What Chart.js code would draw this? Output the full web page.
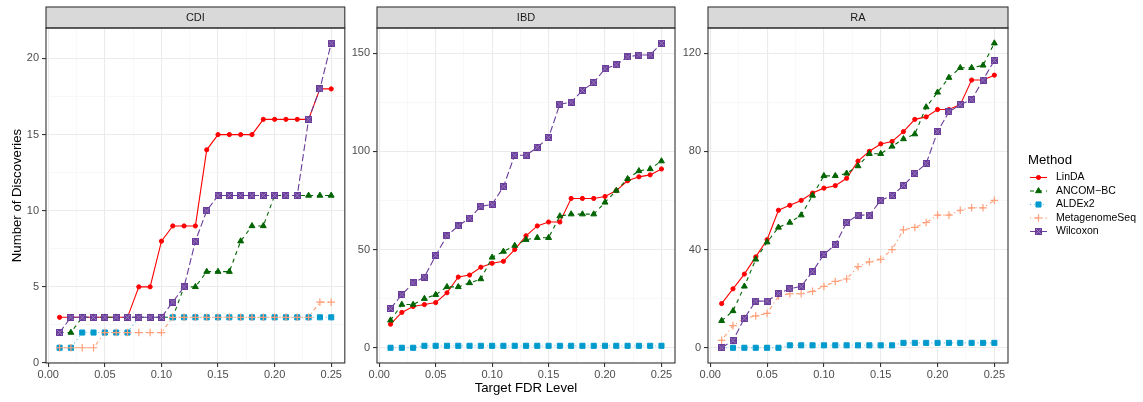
<!DOCTYPE html>
<html>
<head>
<meta charset="utf-8">
<title>Discoveries by target FDR</title>
<script src="https://cdn.jsdelivr.net/npm/chart.js@4.4.1/dist/chart.umd.min.js"></script>
<style>
  html, body { margin: 0; padding: 0; background: #ffffff; }
  #wrap { position: relative; width: 1143px; height: 402px; overflow: hidden; }
  #wrap canvas { position: absolute; top: 0; }
</style>
</head>
<body>
<div id="wrap">
  <canvas id="cdiChart" width="350" height="402" style="left:0px"></canvas>
  <canvas id="ibdChart" width="330" height="402" style="left:350px"></canvas>
  <canvas id="raChart" width="463" height="402" style="left:680px"></canvas>
</div>
<script>
// --- DATA ---
const fdrLevels = [0.01, 0.02, 0.03, 0.04, 0.05, 0.06, 0.07, 0.08, 0.09, 0.10,
                   0.11, 0.12, 0.13, 0.14, 0.15, 0.16, 0.17, 0.18, 0.19, 0.20,
                   0.21, 0.22, 0.23, 0.24, 0.25];
const methodNames = ['LinDA', 'ANCOM\u2212BC', 'ALDEx2', 'MetagenomeSeq', 'Wilcoxon'];

const xTickLabels = [0.00, 0.05, 0.10, 0.15, 0.20, 0.25];
const cdiTickLabels = [0, 5, 10, 15, 20];
const ibdTickLabels = [0, 50, 100, 150];
const raTickLabels = [0, 40, 80, 120];

// CDI
const cdiLinDA         = [3, 3, 3, 3, 3, 3, 3, 5, 5, 8, 9, 9, 9, 14, 15, 15, 15, 15, 16, 16, 16, 16, 16, 18, 18];
const cdiAncomBC       = [2, 2, 3, 3, 3, 3, 3, 3, 3, 3, 3, 5, 5, 6, 6, 6, 8, 9, 9, 11, 11, 11, 11, 11, 11];
const cdiALDEx2        = [1, 1, 2, 2, 2, 2, 2, 3, 3, 3, 3, 3, 3, 3, 3, 3, 3, 3, 3, 3, 3, 3, 3, 3, 3];
const cdiMetagenomeSeq = [1, 1, 1, 1, 2, 2, 2, 2, 2, 2, 3, 3, 3, 3, 3, 3, 3, 3, 3, 3, 3, 3, 3, 4, 4];
const cdiWilcoxon      = [2, 3, 3, 3, 3, 3, 3, 3, 3, 3, 4, 5, 8, 10, 11, 11, 11, 11, 11, 11, 11, 11, 16, 18, 21];

// IBD (no MetagenomeSeq results)
const ibdLinDA         = [12, 18, 21, 22, 23, 28, 36, 37, 41, 43, 44, 50, 57, 62, 64, 64, 76, 76, 76, 77, 80, 85, 87, 88, 91];
const ibdAncomBC       = [14, 22, 22, 25, 27, 31, 31, 33, 35, 46, 49, 52, 55, 56, 56, 67, 68, 68, 68, 74, 80, 86, 90, 91, 95];
const ibdALDEx2        = [0, 0, 0, 1, 1, 1, 1, 1, 1, 1, 1, 1, 1, 1, 1, 1, 1, 1, 1, 1, 1, 1, 1, 1, 1];
const ibdMetagenomeSeq = [];
const ibdWilcoxon      = [20, 27, 33, 36, 47, 57, 62, 66, 72, 73, 82, 98, 98, 102, 107, 124, 125, 131, 135, 142, 144, 148, 149, 149, 155];

// RA
const raLinDA         = [18, 24, 30, 37, 44, 56, 58, 60, 63, 65, 66, 69, 76, 80, 83, 84, 88, 93, 94, 97, 97, 99, 109, 109, 111];
const raAncomBC       = [11, 15, 25, 36, 43, 49, 51, 54, 62, 70, 70, 71, 74, 79, 79, 82, 85, 87, 98, 104, 110, 114, 114, 115, 124];
const raALDEx2        = [0, 0, 0, 0, 0, 0, 1, 1, 1, 1, 1, 1, 1, 1, 1, 1, 2, 2, 2, 2, 2, 2, 2, 2, 2];
const raMetagenomeSeq = [3, 9, 12, 13, 14, 21, 22, 22, 23, 25, 27, 28, 33, 35, 36, 40, 48, 49, 51, 54, 54, 56, 57, 57, 60];
const raWilcoxon      = [0, 3, 12, 19, 19, 22, 24, 25, 31, 38, 42, 51, 54, 54, 60, 62, 66, 71, 75, 88, 96, 99, 101, 109, 117];

// --- STYLES ---
const FONT = '"Liberation Sans", Arial, Helvetica, sans-serif';
const TICK_SIZE = 11;

// filled square with a light X, used for Wilcoxon
function squareCross(fill, line) {
    const c = document.createElement('canvas');
    c.width = 7; c.height = 7;
    const g = c.getContext('2d');
    g.fillStyle = fill;
    g.fillRect(0, 0, 7, 7);
    g.strokeStyle = line;
    g.lineWidth = 1;
    g.beginPath();
    g.moveTo(1, 1); g.lineTo(6, 6);
    g.moveTo(6, 1); g.lineTo(1, 6);
    g.stroke();
    return c;
}

const methodStyles = [
    { color: '#FF0000', line: '#FF0000', dash: [], point: 'circle', radius: 2.1, border: 1 },
    { color: '#006400', line: '#006400', dash: [4, 4], point: 'triangle', radius: 3.4, border: 1 },
    { color: '#009ACD', line: 'rgba(0,154,205,0.55)', dash: [1.2, 3], point: 'rect', radius: 3.6, border: 1 },
    { color: '#FFA07A', line: '#FFA07A', dash: [1.2, 3, 4, 3], point: 'cross', radius: 3.8, border: 1.2 },
    { color: '#6A3D9A', line: '#6A3D9A', dash: [7, 3], point: squareCross('#6A3D9A', '#9C82C0'), radius: 3.5, border: 1 }
];

const half = arr => arr.slice(1).map((v, i) => (v + arr[i]) / 2);

// lines go below all points, later methods draw on top
function buildDatasets(seriesList) {
    const sets = [];
    seriesList.forEach((values, i) => {
        const st = methodStyles[i];
        const pts = values.map((y, k) => ({ x: fdrLevels[k], y }));
        sets.push({
            label: methodNames[i], data: pts, showLine: true,
            borderColor: st.line, borderWidth: 1.1, borderDash: st.dash,
            pointRadius: 0, order: 20 - i
        });
        sets.push({
            label: methodNames[i], data: pts, showLine: false,
            pointStyle: st.point, pointRadius: st.radius,
            pointBackgroundColor: st.color, pointBorderColor: st.color,
            pointBorderWidth: st.border, order: 10 - i
        });
    });
    return sets;
}

// --- PANEL FRAME + STRIP ---
const panelDecor = {
    id: 'panelDecor',
    afterDraw(chart, args, opts) {
        const { ctx, chartArea: a } = chart;
        ctx.save();
        ctx.fillStyle = '#D9D9D9';
        ctx.fillRect(a.left, 7, a.right - a.left, a.top - 7);
        ctx.strokeStyle = '#333333';
        ctx.lineWidth = 1.1;
        ctx.strokeRect(a.left, 7, a.right - a.left, a.top - 7);
        ctx.strokeRect(a.left, a.top, a.right - a.left, a.bottom - a.top);
        ctx.fillStyle = '#1A1A1A';
        ctx.font = '11px ' + FONT;
        ctx.textAlign = 'center';
        ctx.textBaseline = 'middle';
        ctx.fillText(opts.strip, (a.left + a.right) / 2, (7 + a.top) / 2 + 0.5);
        ctx.restore();
    }
};

// --- LEGEND (right of last panel) ---
const methodLegend = {
    id: 'methodLegend',
    afterDraw(chart) {
        const { ctx, chartArea: a } = chart;
        const x0 = a.right + 22;
        const cy = (a.top + a.bottom) / 2;
        ctx.save();
        ctx.fillStyle = '#000000';
        ctx.font = '13.2px ' + FONT;
        ctx.textAlign = 'left';
        ctx.textBaseline = 'middle';
        ctx.fillText('Method', x0 - 2, cy - 35.5);
        methodNames.forEach((name, i) => {
            const st = methodStyles[i];
            const y = cy - 18 + i * 13.5;
            ctx.strokeStyle = st.line;
            ctx.lineWidth = 1.1;
            ctx.setLineDash(st.dash);
            ctx.beginPath();
            ctx.moveTo(x0, y);
            ctx.lineTo(x0 + 17, y);
            ctx.stroke();
            ctx.setLineDash([]);
            ctx.fillStyle = st.color;
            ctx.strokeStyle = st.color;
            ctx.lineWidth = st.border;
            Chart.helpers.drawPoint(ctx, { pointStyle: st.point, radius: st.radius, rotation: 0, borderWidth: st.border }, x0 + 8.5, y);
            ctx.fillStyle = '#000000';
            ctx.font = '10.5px ' + FONT;
            ctx.fillText(name, x0 + 26, y);
        });
        ctx.restore();
    }
};

// --- CHART SETUP ---
function makePanel(id, strip, seriesList, yRange, yLabels, opts) {
    const xMinor = half(xTickLabels);
    const yMinor = half(yLabels);
    const isMajor = (list, v) => list.some(t => Math.abs(t - v) < 1e-9);
    const gridFor = list => ({
        color: c => isMajor(list, c.tick.value) ? '#EBEBEB' : '#F4F4F4',
        lineWidth: c => isMajor(list, c.tick.value) ? 1.1 : 0.6,
        tickColor: c => isMajor(list, c.tick.value) ? '#333333' : 'rgba(0,0,0,0)',
        tickWidth: 1.1,
        tickLength: 4,
        drawTicks: true
    });

    return new Chart(document.getElementById(id), {
        type: 'scatter',
        data: { datasets: buildDatasets(seriesList) },
        options: {
            responsive: false,
            animation: false,
            events: [],
            layout: { padding: { left: 0, right: opts.rightPad, top: 28, bottom: 0 } },
            plugins: {
                legend: { display: false },
                tooltip: { enabled: false },
                panelDecor: { strip }
            },
            scales: {
                x: {
                    type: 'linear',
                    min: -0.002, max: 0.262,
                    border: { display: false },
                    grid: gridFor(xTickLabels),
                    afterBuildTicks: s => { s.ticks = xTickLabels.concat(xMinor).sort((p, q) => p - q).map(v => ({ value: v })); },
                    afterFit: s => { s.height = 39; },
                    ticks: {
                        autoSkip: false, maxRotation: 0, padding: 1.5,
                        color: '#4D4D4D', font: { family: FONT, size: TICK_SIZE },
                        callback: v => isMajor(xTickLabels, v) ? v.toFixed(2) : ''
                    },
                    title: {
                        display: !!opts.xTitle, text: opts.xTitle || '',
                        color: '#000000', font: { family: FONT, size: 13.2 },
                        padding: { top: 0, bottom: 6 }
                    }
                },
                y: {
                    type: 'linear',
                    min: yRange[0], max: yRange[1],
                    border: { display: false },
                    grid: gridFor(yLabels),
                    afterBuildTicks: s => { s.ticks = yLabels.concat(yMinor).sort((p, q) => p - q).map(v => ({ value: v })); },
                    afterFit: s => { s.width = opts.yWidth; },
                    ticks: {
                        autoSkip: false, padding: 3,
                        color: '#4D4D4D', font: { family: FONT, size: TICK_SIZE },
                        callback: v => isMajor(yLabels, v) ? String(v) : ''
                    },
                    title: {
                        display: !!opts.yTitle, text: opts.yTitle || '',
                        color: '#000000', font: { family: FONT, size: 13.2 },
                        padding: { top: 9, bottom: 0 }
                    }
                }
            }
        },
        plugins: opts.legend ? [panelDecor, methodLegend] : [panelDecor]
    });
}

makePanel('cdiChart', 'CDI',
    [cdiLinDA, cdiAncomBC, cdiALDEx2, cdiMetagenomeSeq, cdiWilcoxon],
    [0, 22], cdiTickLabels,
    { yWidth: 46, rightPad: 3, yTitle: 'Number of Discoveries' });

makePanel('ibdChart', 'IBD',
    [ibdLinDA, ibdAncomBC, ibdALDEx2, ibdMetagenomeSeq, ibdWilcoxon],
    [-7.75, 162.75], ibdTickLabels,
    { yWidth: 27, rightPad: 3, xTitle: 'Target FDR Level' });

makePanel('raChart', 'RA',
    [raLinDA, raAncomBC, raALDEx2, raMetagenomeSeq, raWilcoxon],
    [-6.2, 130.2], raTickLabels,
    { yWidth: 28, rightPad: 135, legend: true });
</script>
</body>
</html>
